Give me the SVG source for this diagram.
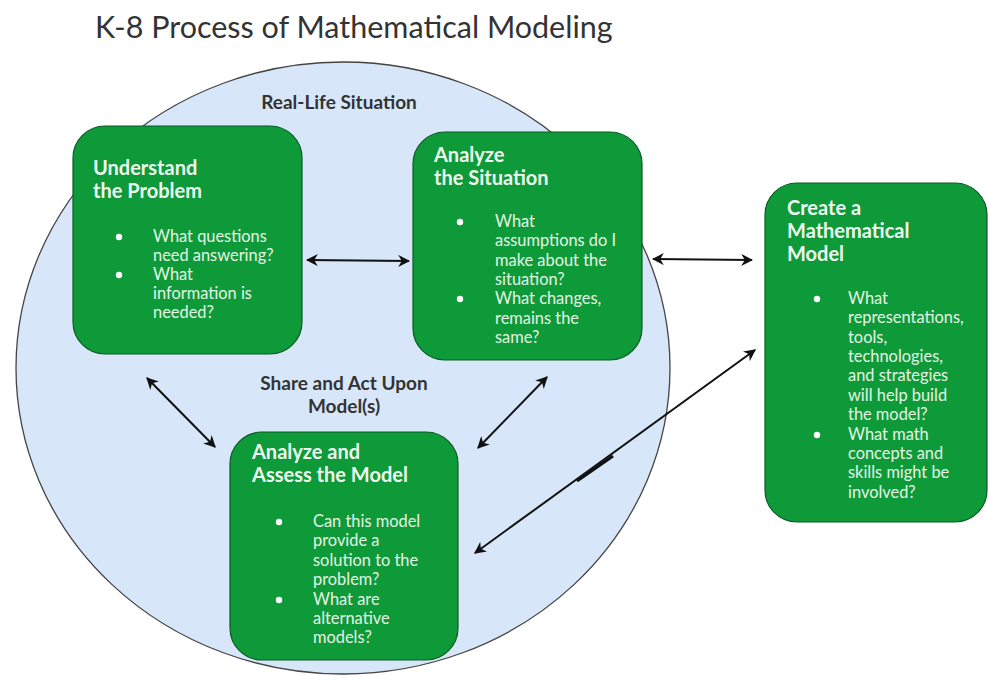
<svg xmlns="http://www.w3.org/2000/svg" width="988" height="676" viewBox="0 0 988 676">
<defs>
<marker id="ah" viewBox="0 0 10 10" refX="9" refY="5" markerWidth="6" markerHeight="6" orient="auto-start-reverse" markerUnits="strokeWidth">
<path d="M0,0 L10,5 L0,10 L3,5 Z" fill="#111"/>
</marker>
<style>
.box{fill:#0f9a3a;stroke:#0a5a22;stroke-width:1.2}
.t{font-family:Lato,"Liberation Sans",sans-serif;font-weight:bold;font-size:20px;fill:#eef8ee}
.b{font-family:Lato,"Liberation Sans",sans-serif;font-size:16.4px;fill:#e4f4e4}
.lbl{font-family:Lato,"Liberation Sans",sans-serif;font-weight:bold;font-size:19px;fill:#333}
.c{stroke:#111;stroke-width:2;fill:none;marker-start:url(#ah);marker-end:url(#ah)}
</style>
</defs>
<rect width="988" height="676" fill="#fff"/>
<text x="95" y="38" font-family="Lato,'Liberation Sans',sans-serif" font-size="30.5" fill="#333">K-8 Process of Mathematical Modeling</text>
<g id="situation">
<ellipse cx="343" cy="368" rx="327" ry="306" fill="#d7e7f9" stroke="#444" stroke-width="1.3"/>
<text class="lbl" x="339" y="109" text-anchor="middle">Real-Life Situation</text>
<text class="lbl" x="344" y="390" text-anchor="middle">Share and Act Upon</text>
<text class="lbl" x="344" y="413" text-anchor="middle">Model(s)</text>
</g>
<g id="understand">
<rect class="box" x="73" y="126" width="229" height="228" rx="32"/>
<text class="t" x="93" y="175">Understand</text>
<text class="t" x="93" y="198">the Problem</text>
<circle cx="119" cy="237" r="3.2" fill="#fff"/>
<circle cx="119" cy="275" r="3.2" fill="#fff"/>
<text class="b" x="153" y="242">What questions</text>
<text class="b" x="153" y="261">need answering?</text>
<text class="b" x="153" y="280">What</text>
<text class="b" x="153" y="299">information is</text>
<text class="b" x="153" y="318">needed?</text>
</g>
<g id="analyze-situation">
<rect class="box" x="413" y="132" width="229" height="228" rx="32"/>
<text class="t" x="434" y="162">Analyze</text>
<text class="t" x="434" y="185">the Situation</text>
<circle cx="460" cy="222" r="3.2" fill="#fff"/>
<circle cx="460" cy="299" r="3.2" fill="#fff"/>
<text class="b" x="495" y="227">What</text>
<text class="b" x="495" y="246">assumptions do I</text>
<text class="b" x="495" y="266">make about the</text>
<text class="b" x="495" y="285">situation?</text>
<text class="b" x="495" y="304">What changes,</text>
<text class="b" x="495" y="324">remains the</text>
<text class="b" x="495" y="343">same?</text>
</g>
<g id="create-model">
<rect class="box" x="765" y="183" width="222" height="339" rx="32"/>
<text class="t" x="787" y="215">Create a</text>
<text class="t" x="787" y="238">Mathematical</text>
<text class="t" x="787" y="261">Model</text>
<circle cx="817" cy="299" r="3.2" fill="#fff"/>
<circle cx="817" cy="435" r="3.2" fill="#fff"/>
<text class="b" x="848" y="304">What</text>
<text class="b" x="848" y="323">representations,</text>
<text class="b" x="848" y="343">tools,</text>
<text class="b" x="848" y="362">technologies,</text>
<text class="b" x="848" y="381">and strategies</text>
<text class="b" x="848" y="401">will help build</text>
<text class="b" x="848" y="420">the model?</text>
<text class="b" x="848" y="440">What math</text>
<text class="b" x="848" y="459">concepts and</text>
<text class="b" x="848" y="478">skills might be</text>
<text class="b" x="848" y="498">involved?</text>
</g>
<g id="analyze-assess">
<rect class="box" x="230" y="432" width="228" height="228" rx="32"/>
<text class="t" x="252" y="459">Analyze and</text>
<text class="t" x="252" y="482">Assess the Model</text>
<circle cx="279" cy="522" r="3.2" fill="#fff"/>
<circle cx="279" cy="600" r="3.2" fill="#fff"/>
<text class="b" x="313" y="527">Can this model</text>
<text class="b" x="313" y="546">provide a</text>
<text class="b" x="313" y="566">solution to the</text>
<text class="b" x="313" y="585">problem?</text>
<text class="b" x="313" y="605">What are</text>
<text class="b" x="313" y="624">alternative</text>
<text class="b" x="313" y="643">models?</text>
</g>
<g id="connectors">
<line class="c" x1="307" y1="260" x2="409" y2="261"/>
<line class="c" x1="653" y1="259" x2="752" y2="260"/>
<line class="c" x1="147" y1="378" x2="215" y2="447"/>
<line class="c" x1="547" y1="377" x2="478" y2="448"/>
<line class="c" x1="755" y1="350" x2="475" y2="553"/>
<line x1="577" y1="481" x2="613" y2="456" stroke="#111" stroke-width="3"/>
</g>
</svg>
